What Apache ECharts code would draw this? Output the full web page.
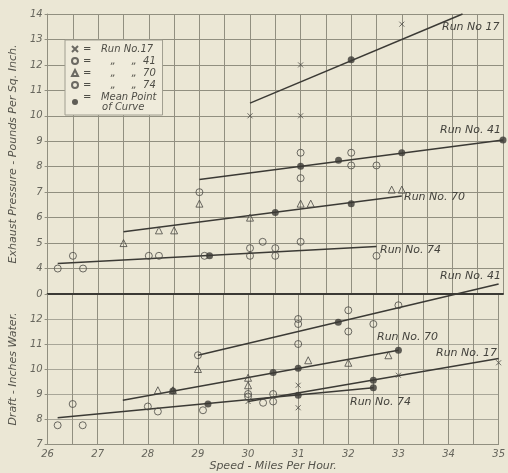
<!DOCTYPE html>
<html>
<head>
<meta charset="utf-8">
<script src="https://cdn.jsdelivr.net/npm/echarts@6/dist/echarts.min.js"></script>
<style>
  html, body { margin: 0; padding: 0; background: #ebe7d5; }
  #chart { width: 508px; height: 473px; }
</style>
</head>
<body>
<div id="chart"></div>
<script>
// exhaust pressure panel (top), [speed, lb per sq in]
const topRun17 = [[30, 10], [31, 12], [31, 10], [33, 13.6]];
const topRun41 = [[29, 7], [31, 8.55], [31, 7.55], [32, 8.55], [32, 8.05], [32.5, 8.05]];
const topRun70 = [[27.5, 5], [28.2, 5.5], [28.5, 5.5], [29, 6.55], [30, 6], [31, 6.55], [31.2, 6.55], [32.8, 7.1], [33, 7.1]];
const topRun74 = [[26.2, 4], [26.5, 4.5], [26.7, 4], [28, 4.5], [28.2, 4.5], [29.1, 4.5], [30, 4.8], [30, 4.5], [30.25, 5.05], [30.5, 4.8], [30.5, 4.5], [31, 5.05], [32.5, 4.5]];
const topMeans = [[32, 12.2], [31, 8.02], [31.75, 8.25], [33, 8.55], [35, 9.05], [30.5, 6.2], [32, 6.55], [29.2, 4.5]];
const topFit17 = [[30, 10.5], [34.2, 14]];
const topFit41 = [[29, 7.5], [35, 9.05]];
const topFit70 = [[27.5, 5.45], [33, 6.85]];
const topFit74 = [[26.2, 4.2], [32.5, 4.87]];

// draft panel (bottom), [speed, inches water]
const botRun17 = [[30, 8.7], [31, 9.35], [31, 8.45], [33, 9.75], [35, 10.25]];
const botRun41 = [[29, 10.55], [31, 12], [31, 11.8], [31, 11], [32, 12.35], [32, 11.5], [32.5, 11.8], [33, 12.55]];
const botRun70 = [[28.2, 9.15], [28.5, 9.15], [29, 10], [30, 9.65], [30, 9.35], [31.2, 10.35], [32, 10.25], [32.8, 10.55]];
const botRun74 = [[26.2, 7.75], [26.5, 8.6], [26.7, 7.75], [28, 8.5], [28.2, 8.3], [29.1, 8.35], [30, 9], [30, 8.9], [30.3, 8.65], [30.5, 9], [30.5, 8.7]];
const botMeans = [[31.8, 11.87], [28.5, 9.12], [30.5, 9.86], [31, 10.03], [33, 10.75], [32.5, 9.55], [29.2, 8.6], [31, 8.95], [32.5, 9.25]];
const botFit17 = [[30, 8.7], [35, 10.42]];
const botFit41 = [[29, 10.55], [35, 13.4]];
const botFit70 = [[27.5, 8.75], [33, 10.75]];
const botFit74 = [[26.2, 8.05], [32.5, 9.25]];

const runLabels = [
  ['Run No 17', 442, 22], ['Run No. 41', 440, 125], ['Run No. 70', 404, 192], ['Run No. 74', 380, 245],
  ['Run No. 41', 440, 271], ['Run No. 70', 377, 332], ['Run No. 17', 436, 348], ['Run No. 74', 350, 397]
];

const ink = '#3b3a35';
const gridColor = '#918f80';
const font = 'DejaVu Sans';
const crossPath = 'path://M0,0L10,10M10,0L0,10';

const chart = echarts.init(document.getElementById('chart'));

function xAxis(gridIndex, showLabels) {
  return {
    type: 'value', gridIndex: gridIndex, min: 26, max: 35, interval: 0.5,
    name: showLabels ? 'Speed - Miles Per Hour.' : '',
    nameLocation: 'middle', nameGap: 17,
    nameTextStyle: { fontFamily: font, fontStyle: 'italic', fontSize: 11, color: '#55544c' },
    axisLine: { show: true, lineStyle: { color: showLabels ? gridColor : ink, width: showLabels ? 1 : 2 } },
    axisTick: { show: false },
    axisLabel: {
      show: showLabels, margin: 5, fontFamily: font, fontStyle: 'italic', fontSize: 10, color: '#66655c',
      formatter: v => (Number.isInteger(v) ? String(v) : '')
    },
    splitLine: { show: true, lineStyle: { color: gridColor, width: 1 } }
  };
}

function scatter(name, idx, data, symbol, size) {
  return {
    name: name, type: 'scatter', xAxisIndex: idx, yAxisIndex: idx, data: data,
    symbol: symbol, symbolSize: size,
    itemStyle: { color: 'rgba(0,0,0,0)', borderColor: '#4a4944', borderWidth: 1 },
    z: 4
  };
}

function fitLine(idx, data) {
  return {
    type: 'line', xAxisIndex: idx, yAxisIndex: idx, data: data, symbol: 'none', clip: false,
    lineStyle: { color: ink, width: 1.5 }, silent: true, z: 3
  };
}

const series = [
  scatter('Run No.17', 0, topRun17, crossPath, 5),
  scatter('Run No.41', 0, topRun41, 'circle', 7),
  scatter('Run No.70', 0, topRun70, 'triangle', 7),
  scatter('Run No.74', 0, topRun74, 'circle', 7),
  scatter('Run No.17', 1, botRun17, crossPath, 5),
  scatter('Run No.41', 1, botRun41, 'circle', 7),
  scatter('Run No.70', 1, botRun70, 'triangle', 7),
  scatter('Run No.74', 1, botRun74, 'circle', 7),
  fitLine(0, topFit17), fitLine(0, topFit41), fitLine(0, topFit70), fitLine(0, topFit74),
  fitLine(1, botFit17), fitLine(1, botFit41), fitLine(1, botFit70), fitLine(1, botFit74),
  { name: 'Mean Point of Curve', type: 'scatter', xAxisIndex: 0, yAxisIndex: 0, data: topMeans,
    symbol: 'circle', symbolSize: 7, itemStyle: { color: ink }, z: 5 },
  { name: 'Mean Point of Curve', type: 'scatter', xAxisIndex: 1, yAxisIndex: 1, data: botMeans,
    symbol: 'circle', symbolSize: 7, itemStyle: { color: ink }, z: 5 }
];

const legendText = {
  'Run No.17': '=   Run No.17',
  'Run No.41': '=      \u201e     \u201e  41',
  'Run No.70': '=      \u201e     \u201e  70',
  'Run No.74': '=      \u201e     \u201e  74',
  'Mean Point of Curve': '=   Mean Point\n      of Curve'
};

chart.setOption({
  backgroundColor: '#ebe7d5',
  animation: false,
  grid: [
    { left: 38, right: 5, top: 14, height: 280 },
    { left: 38, right: 5, top: 294, height: 153 }
  ],
  xAxis: [xAxis(0, false), xAxis(1, true)],
  yAxis: [
    {
      type: 'value', gridIndex: 0, min: 3, max: 14, interval: 1,
      name: 'Exhaust Pressure - Pounds Per Sq. Inch.', nameLocation: 'middle', nameGap: 22,
      nameTextStyle: { fontFamily: font, fontStyle: 'italic', fontSize: 11, color: '#55544c' },
      axisLine: { show: true, lineStyle: { color: gridColor } },
      axisTick: { show: true, length: 3, lineStyle: { color: gridColor } },
      axisLabel: { margin: 5, fontFamily: font, fontStyle: 'italic', fontSize: 10, color: '#66655c',
        formatter: v => (v === 3 ? '0' : String(v)) },
      splitLine: { show: true, lineStyle: { color: gridColor } }
    },
    {
      type: 'value', gridIndex: 1, min: 7, max: 13, interval: 1,
      name: 'Draft - Inches Water.', nameLocation: 'middle', nameGap: 22,
      nameTextStyle: { fontFamily: font, fontStyle: 'italic', fontSize: 11, color: '#55544c' },
      axisLine: { show: true, lineStyle: { color: gridColor } },
      axisTick: { show: true, length: 3, lineStyle: { color: gridColor } },
      axisLabel: { margin: 5, fontFamily: font, fontStyle: 'italic', fontSize: 10, color: '#66655c',
        showMaxLabel: false },
      splitLine: { show: true, lineStyle: { color: '#a8a698' } }
    }
  ],
  legend: {
    orient: 'vertical', left: 65, top: 40,
    data: [
      { name: 'Run No.17', icon: crossPath },
      { name: 'Run No.41', icon: 'circle' },
      { name: 'Run No.70', icon: 'triangle' },
      { name: 'Run No.74', icon: 'circle' },
      { name: 'Mean Point of Curve', icon: 'circle' }
    ],
    itemWidth: 6, itemHeight: 6, itemGap: 2,
    backgroundColor: '#efebdb', borderColor: '#a09e90', borderWidth: 1, borderRadius: 0,
    padding: [4, 6, 3, 6],
    selectedMode: false,
    formatter: n => legendText[n],
    textStyle: { fontFamily: font, fontStyle: 'italic', fontSize: 10, color: '#4f4e47', lineHeight: 10 }
  },
  graphic: runLabels.map(l => ({
    type: 'text', left: l[1], top: l[2], z: 10,
    style: { text: l[0], fontFamily: font, fontStyle: 'italic', fontSize: 11, fill: '#44433d' }
  })),
  series: series
});
</script>
</body>
</html>
